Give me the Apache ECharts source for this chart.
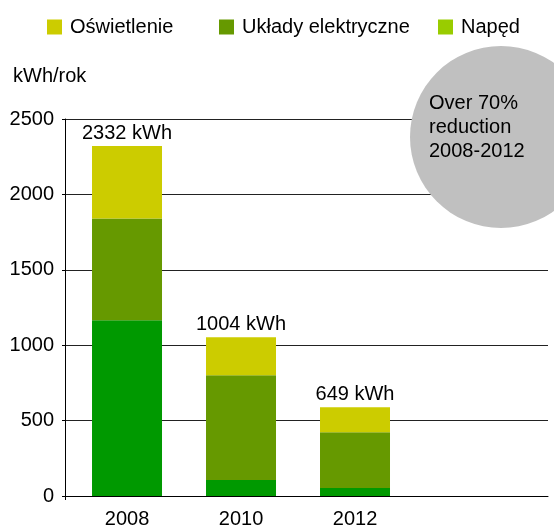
<!DOCTYPE html>
<html>
<head>
<meta charset="utf-8">
<script src="https://cdn.jsdelivr.net/npm/echarts@6/dist/echarts.min.js"></script>
<style>
html,body{margin:0;padding:0;background:#fff;}
#chart{width:554px;height:529px;}
</style>
</head>
<body>
<div id="chart"></div>
<script>
// ---- data ----
var years = [2008, 2010, 2012];
var naped = [1166, 106, 53];
var uklady = [675, 694, 370];
var oswietlenie = [480, 252, 166];
var totalLabels = ['2332 kWh', '1004 kWh', '649 kWh'];
var seriesNames = ['Oświetlenie', 'Układy elektryczne', 'Napęd'];
var calloutLines = ['Over 70%', 'reduction', '2008-2012'];
var unitLabel = 'kWh/rok';

// ---- chart ----
var FONT = "'Liberation Sans', Arial, sans-serif";
var xMin = 2006.912, xMax = 2015.386;
// rows as [value, year] so that the value dimension is the stacked one
function rows(vals) { return years.map(function (y, i) { return [vals[i], y]; }); }

var chart = echarts.init(document.getElementById('chart'));
var legendBase = {
  top: 17, padding: 0, itemWidth: 15, itemHeight: 15, itemGap: 0, icon: 'rect',
  textStyle: { fontFamily: FONT, fontSize: 20, color: '#000', padding: [0, 0, 0, 3] },
  selectedMode: false
};
function leg(left, name, color) {
  return Object.assign({}, legendBase, { left: left, data: [{ name: name, itemStyle: { color: color } }] });
}
function barSeries(name, color, vals) {
  return { name: name, type: 'bar', stack: 'total', barWidth: 70,
    encode: { x: 1, y: 0 }, itemStyle: { color: color }, data: rows(vals) };
}
var topSeries = barSeries(seriesNames[0], '#CCCC00', oswietlenie);
topSeries.label = { show: true, position: 'top', distance: 3, fontSize: 20, color: '#000', fontFamily: FONT,
  formatter: function (p) { return totalLabels[p.dataIndex]; } };

chart.setOption({
  animation: false,
  textStyle: { fontFamily: FONT },
  legend: [
    leg(47, seriesNames[0], '#CCCC00'),
    leg(219, seriesNames[1], '#669900'),
    leg(438, seriesNames[2], '#99CC00')
  ],
  grid: { left: 65, right: 6, top: 119, bottom: 32, containLabel: false },
  xAxis: {
    type: 'value', min: xMin, max: xMax,
    axisLine: { show: true, lineStyle: { color: '#000', width: 1 } },
    axisTick: { show: true, customValues: [xMin], length: 4, lineStyle: { color: '#000' } },
    splitLine: { show: false },
    axisLabel: { customValues: years, fontSize: 20, color: '#000', fontFamily: FONT, margin: 13,
      formatter: function (v) { return String(Math.round(v)); } }
  },
  yAxis: {
    type: 'value', min: 0, max: 2500, interval: 500,
    axisLine: { show: true, lineStyle: { color: '#000', width: 1 } },
    axisTick: { show: true, length: 3, lineStyle: { color: '#000' } },
    splitLine: { show: true, lineStyle: { color: '#222', width: 1 } },
    axisLabel: { fontSize: 20, color: '#000', fontFamily: FONT, margin: 11,
      formatter: function (v) { return String(v); } }
  },
  series: [
    barSeries(seriesNames[2], '#009900', naped),
    barSeries(seriesNames[1], '#669900', uklady),
    topSeries
  ],
  graphic: [
    { type: 'text', left: 13, top: 66, z: 10,
      style: { text: unitLabel, font: '20px ' + FONT, fill: '#000' } },
    { type: 'circle', shape: { cx: 501, cy: 137, r: 91 }, z: 100,
      style: { fill: '#C0C0C0' } },
    { type: 'text', left: 429, top: 91, z: 101,
      style: { text: calloutLines.join('\n'), font: '20px ' + FONT, fill: '#000', lineHeight: 24 } }
  ]
});
</script>
</body>
</html>
